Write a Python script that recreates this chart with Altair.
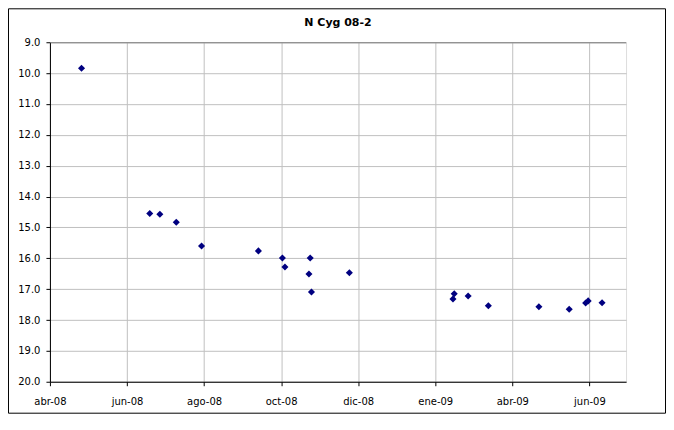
import altair as alt
import pandas as pd

dates = ["2008-04-26", "2008-06-19", "2008-06-27", "2008-07-10", "2008-07-30",
         "2008-09-13", "2008-10-02", "2008-10-04", "2008-10-24", "2008-10-23",
         "2008-10-25", "2008-11-24", "2009-02-15", "2009-02-14", "2009-02-26",
         "2009-03-14", "2009-04-23", "2009-05-17", "2009-05-30", "2009-06-01",
         "2009-06-12"]
mags = [9.84, 14.55, 14.57, 14.83, 15.60,
        15.76, 15.99, 16.28, 15.99, 16.51,
        17.09, 16.47, 17.15, 17.32, 17.22,
        17.54, 17.57, 17.65, 17.45, 17.38,
        17.44]

title_text = "N Cyg 08-2"

# Excel-style date axis: start 2008-04-01, major unit 61 days, end 2009-07-01
tick_dates = ["2008-04-01", "2008-06-01", "2008-08-01", "2008-10-01",
              "2008-12-01", "2009-01-31", "2009-04-02", "2009-06-02"]
month_abbr = ["ene", "feb", "mar", "abr", "may", "jun",
              "jul", "ago", "sep", "oct", "nov", "dic"]
x_start = "2008-04-01"
x_end = "2009-07-01"
y_ticks = [9, 10, 11, 12, 13, 14, 15, 16, 17, 18, 19, 20]

def to_dt(s):
    t = pd.Timestamp(s)
    return alt.DateTime(year=t.year, month=t.month, date=t.day, utc=True)

df = pd.DataFrame({"fecha": dates, "mag": mags})

W, H = 577, 340
PAD = {"left": 42, "top": 34, "right": 40, "bottom": 32}

label_expr = (
    "[" + ",".join("'" + m + "'" for m in month_abbr) + "][utcmonth(datum.value)]"
    " + '-' + utcFormat(datum.value, '%y')"
)

x_enc = alt.X(
    "fecha:T",
    scale=alt.Scale(type="utc", domain=[to_dt(x_start), to_dt(x_end)], nice=False),
    axis=alt.Axis(
        values=[to_dt(d) for d in tick_dates],
        labelExpr=label_expr,
        title=None,
        grid=True,
        gridColor="#C0C0C0",
        domainColor="black",
        tickColor="black",
        tickSize=4,
        labelFont="DejaVu Sans",
        labelFontSize=10,
        labelColor="black",
        labelPadding=11,
        labelFlush=False,
        labelOverlap=False,
    ),
)
y_enc = alt.Y(
    "mag:Q",
    scale=alt.Scale(domain=[9, 20], reverse=True, nice=False, zero=False),
    axis=alt.Axis(
        values=y_ticks,
        format=".1f",
        title=None,
        grid=True,
        gridColor="#C0C0C0",
        domainColor="black",
        tickColor="black",
        tickSize=4,
        labelFont="DejaVu Sans",
        labelFontSize=10,
        labelColor="black",
        labelPadding=6,
        labelFlush=False,
        labelOverlap=False,
    ),
)

points = alt.Chart(df).mark_point(
    shape="diamond", filled=True, size=50, color="#000080", opacity=1
).encode(x=x_enc, y=y_enc)

one = pd.DataFrame({"t": [title_text]})

top_rule = alt.Chart(one).mark_rule(color="#808080", strokeWidth=1).encode(
    x=alt.value(0.5), x2=alt.value(W), y=alt.value(0.5)
)

border = alt.Chart(one).mark_rect(
    fillOpacity=0, stroke="black", strokeWidth=1
).encode(
    x=alt.value(-PAD["left"] + 0.5),
    x2=alt.value(W + PAD["right"] - 0.5),
    y=alt.value(-PAD["top"] + 0.5),
    y2=alt.value(H + PAD["bottom"] - 0.5),
)

title = alt.Chart(one).mark_text(
    font="DejaVu Sans", fontSize=11, fontWeight="bold", color="black",
    align="center", baseline="alphabetic"
).encode(x=alt.value(W / 2), y=alt.value(-16), text="t:N")

chart = alt.layer(points, top_rule, border, title).properties(
    width=W,
    height=H,
    autosize=alt.AutoSizeParams(type="none"),
    padding=PAD,
).configure_view(
    stroke="#808080", strokeWidth=1, fill="white"
).configure(background="white")

chart.save("out.html", embed_options={"renderer": "svg", "actions": False})
